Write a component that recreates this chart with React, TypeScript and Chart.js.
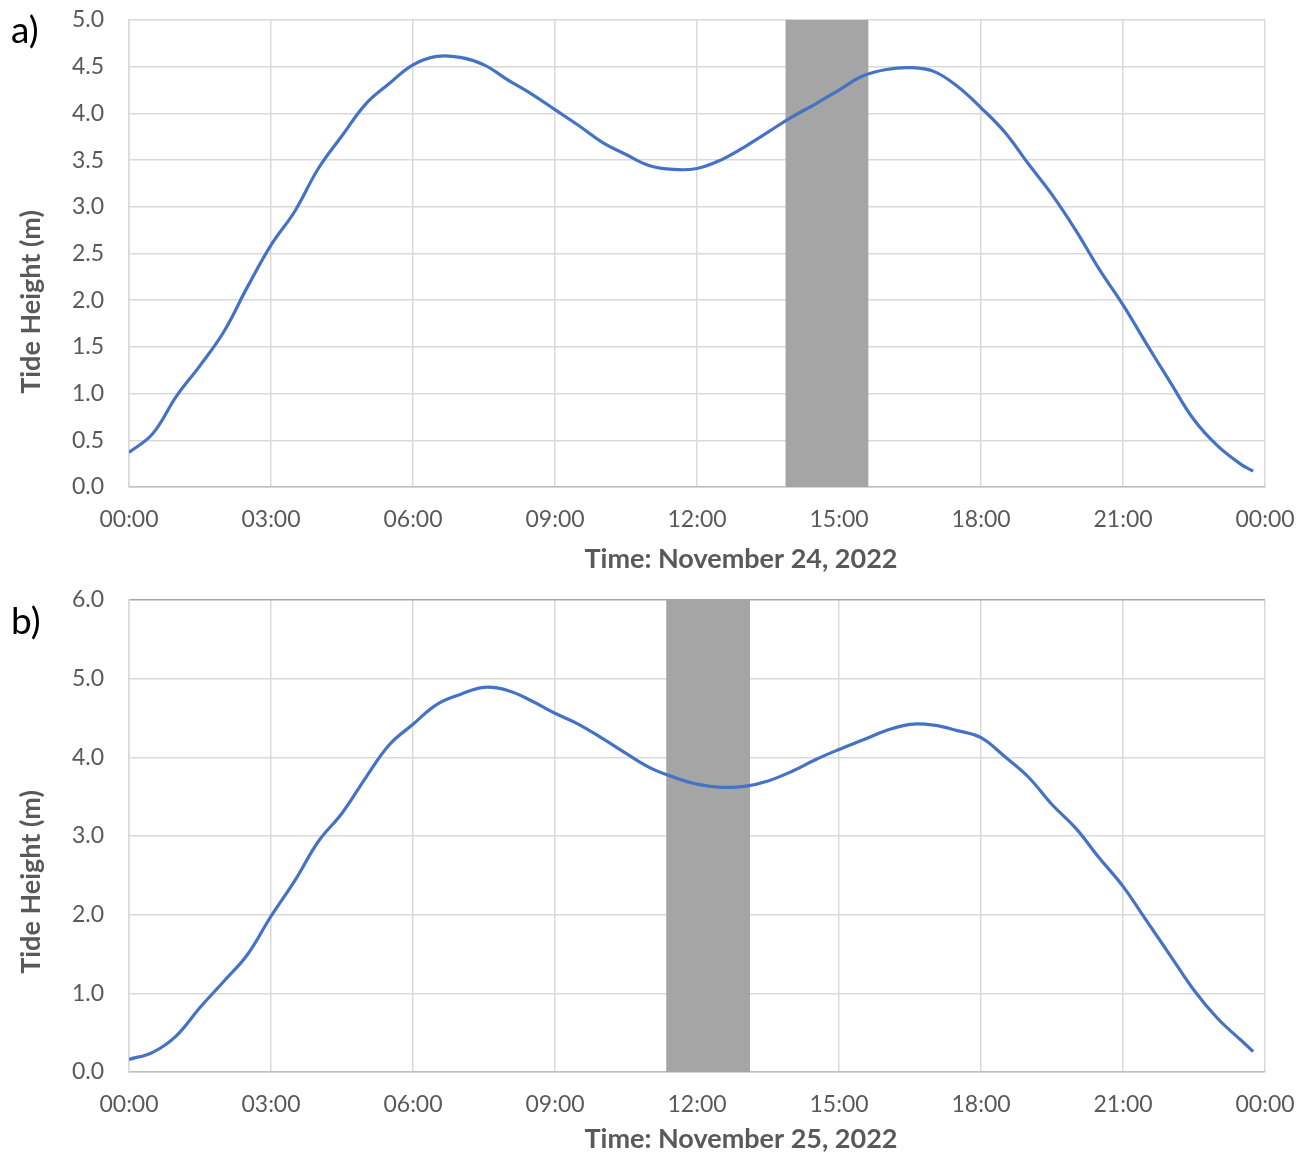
import React, { useEffect, useRef } from "react";
import { Chart, registerables } from "chart.js";

Chart.register(...registerables);

// ---- data ----
const TIME_HOURS = [
  0, 0.5, 1, 1.5, 2, 2.5, 3, 3.5, 4, 4.5, 5, 5.5, 6, 6.5, 7, 7.5, 8, 8.5, 9, 9.5,
  10, 10.5, 11, 11.5, 12, 12.5, 13, 13.5, 14, 14.5, 15, 15.5, 16, 16.5, 17, 17.5,
  18, 18.5, 19, 19.5, 20, 20.5, 21, 21.5, 22, 22.5, 23, 23.5, 23.75,
];

const TIDE_NOV24 = [
  0.37, 0.57, 0.97, 1.3, 1.66, 2.14, 2.59, 2.95, 3.41, 3.76, 4.1, 4.32, 4.52, 4.61,
  4.6, 4.52, 4.36, 4.21, 4.04, 3.87, 3.69, 3.56, 3.44, 3.4, 3.41, 3.5, 3.64, 3.8,
  3.96, 4.1, 4.25, 4.4, 4.47, 4.49, 4.45, 4.29, 4.06, 3.8, 3.46, 3.13, 2.75, 2.33,
  1.95, 1.53, 1.12, 0.72, 0.44, 0.24, 0.17,
];

const TIDE_NOV25 = [
  0.16, 0.25, 0.46, 0.82, 1.15, 1.49, 1.98, 2.43, 2.93, 3.29, 3.74, 4.16, 4.42, 4.67,
  4.8, 4.89, 4.85, 4.72, 4.56, 4.42, 4.24, 4.05, 3.87, 3.75, 3.66, 3.62, 3.63, 3.7,
  3.82, 3.97, 4.1, 4.22, 4.34, 4.42, 4.41, 4.34, 4.25, 4.01, 3.75, 3.4, 3.1, 2.72,
  2.36, 1.92, 1.48, 1.04, 0.68, 0.4, 0.26,
];

// shaded periods (hours)
const BAND_NOV24 = [13.87, 15.62];
const BAND_NOV25 = [11.35, 13.12];

const X_MIN = 0;
const X_MAX = 24;
const X_STEP = 3;
const Y_MAX_A = 5;
const Y_STEP_A = 0.5;
const Y_MAX_B = 6;
const Y_STEP_B = 1;

const Y_TITLE = "Tide Height (m)";
const X_TITLE_A = "Time: November 24, 2022";
const X_TITLE_B = "Time: November 25, 2022";
const PANEL_A = "a)";
const PANEL_B = "b)";

// ---- styles ----
const FONT = "Lato, 'Open Sans', 'Liberation Sans', sans-serif";
const TEXT_GRAY = "#595959";
const GRID = "#d9d9d9";
const LINE_BLUE = "#4472C4";
const BAND_GRAY = "#a5a5a5";

const fmtTime = (v: number) => {
  const h = Math.round(v) % 24;
  return (h < 10 ? "0" : "") + h + ":00";
};

const decorPlugin = {
  id: "decor",
  beforeDatasetsDraw(chart: any, _args: any, opts: any) {
    const { ctx, chartArea, scales } = chart;
    const x1 = scales.x.getPixelForValue(opts.band[0]);
    const x2 = scales.x.getPixelForValue(opts.band[1]);
    ctx.save();
    ctx.fillStyle = BAND_GRAY;
    ctx.fillRect(x1, chartArea.top, x2 - x1, chartArea.bottom - chartArea.top);
    ctx.restore();
  },
  afterDraw(chart: any, _args: any, opts: any) {
    const { ctx } = chart;
    ctx.save();
    // panel label
    ctx.fillStyle = "#000000";
    ctx.font = `37px ${FONT}`;
    ctx.textAlign = "left";
    ctx.textBaseline = "alphabetic";
    ctx.fillText(opts.panel, opts.panelX, opts.panelY);
    // x title
    ctx.fillStyle = TEXT_GRAY;
    ctx.font = `bold 27px ${FONT}`;
    ctx.textAlign = "center";
    ctx.textBaseline = "middle";
    ctx.fillText(opts.xTitle, opts.xTitleX, opts.xTitleY);
    // y title
    ctx.translate(opts.yTitleX, opts.yTitleY);
    ctx.rotate(-Math.PI / 2);
    ctx.fillText(opts.yTitle, 0, 0);
    ctx.restore();
  },
};

type PanelProps = {
  top: number;
  height: number;
  bottomAxis: number;
  yMax: number;
  yStep: number;
  values: number[];
  band: number[];
  panel: string;
  panelY: number;
  xTitle: string;
  darkTop: boolean;
};

function Panel(p: PanelProps) {
  const ref = useRef<HTMLCanvasElement | null>(null);
  useEffect(() => {
    if (!ref.current) return;
    const chart = new Chart(ref.current, {
      type: "line",
      data: {
        datasets: [
          {
            data: TIME_HOURS.map((t, i) => ({ x: t, y: p.values[i] })),
            borderColor: LINE_BLUE,
            borderWidth: 3.2,
            pointRadius: 0,
            tension: 0.4,
            fill: false,
          },
        ],
      },
      options: {
        animation: false,
        responsive: false,
        devicePixelRatio: 1,
        layout: { padding: { top: 20, right: 41, left: 0, bottom: 0 } },
        plugins: {
          legend: { display: false },
          tooltip: { enabled: false },
          decor: {
            band: p.band,
            panel: p.panel,
            panelX: 11,
            panelY: p.panelY,
            xTitle: p.xTitle,
            xTitleX: 741,
            xTitleY: 559,
            yTitle: Y_TITLE,
            yTitleX: 31,
            yTitleY: 302,
          },
        } as any,
        scales: {
          x: {
            type: "linear",
            min: X_MIN,
            max: X_MAX,
            ticks: {
              stepSize: X_STEP,
              callback: (v: any) => fmtTime(Number(v)),
              color: TEXT_GRAY,
              font: { family: FONT, size: 23 },
              padding: 19,
              maxRotation: 0,
              autoSkip: false,
            },
            grid: { color: GRID, lineWidth: 1.5, drawTicks: false },
            border: { color: "#bfbfbf", width: 1.5 },
            afterFit: (s: any) => {
              s.height = p.bottomAxis;
              s.paddingLeft = 0;
              s.paddingRight = 0;
            },
          },
          y: {
            type: "linear",
            min: 0,
            max: p.yMax,
            ticks: {
              stepSize: p.yStep,
              callback: (v: any) => Number(v).toFixed(1),
              color: TEXT_GRAY,
              font: { family: FONT, size: 23 },
              padding: 25,
            },
            grid: {
              color: (c: any) =>
                p.darkTop && c.tick && c.tick.value === p.yMax ? "#a6a6a6" : GRID,
              lineWidth: 1.5,
              drawTicks: false,
            },
            border: { color: GRID, width: 1.5 },
            afterFit: (s: any) => {
              s.width = 129;
              s.paddingTop = 0;
              s.paddingBottom = 0;
            },
          },
        },
      },
      plugins: [decorPlugin],
    });
    return () => chart.destroy();
  }, []);
  return (
    <canvas
      ref={ref}
      width={1306}
      height={p.height}
      style={{
        position: "absolute",
        left: 0,
        top: p.top,
        width: 1306,
        height: p.height,
      }}
    />
  );
}

export default function App() {
  return (
    <div
      style={{
        position: "absolute",
        left: 0,
        top: 0,
        width: 1306,
        height: 1153,
        background: "#ffffff",
        overflow: "hidden",
      }}
    >
      <Panel
        top={0}
        height={580}
        bottomAxis={93}
        yMax={Y_MAX_A}
        yStep={Y_STEP_A}
        values={TIDE_NOV24}
        band={BAND_NOV24}
        panel={PANEL_A}
        panelY={43}
        xTitle={X_TITLE_A}
        darkTop={false}
      />
      <Panel
        top={580}
        height={573}
        bottomAxis={81}
        yMax={Y_MAX_B}
        yStep={Y_STEP_B}
        values={TIDE_NOV25}
        band={BAND_NOV25}
        panel={PANEL_B}
        panelY={54}
        xTitle={X_TITLE_B}
        darkTop={true}
      />
    </div>
  );
}
